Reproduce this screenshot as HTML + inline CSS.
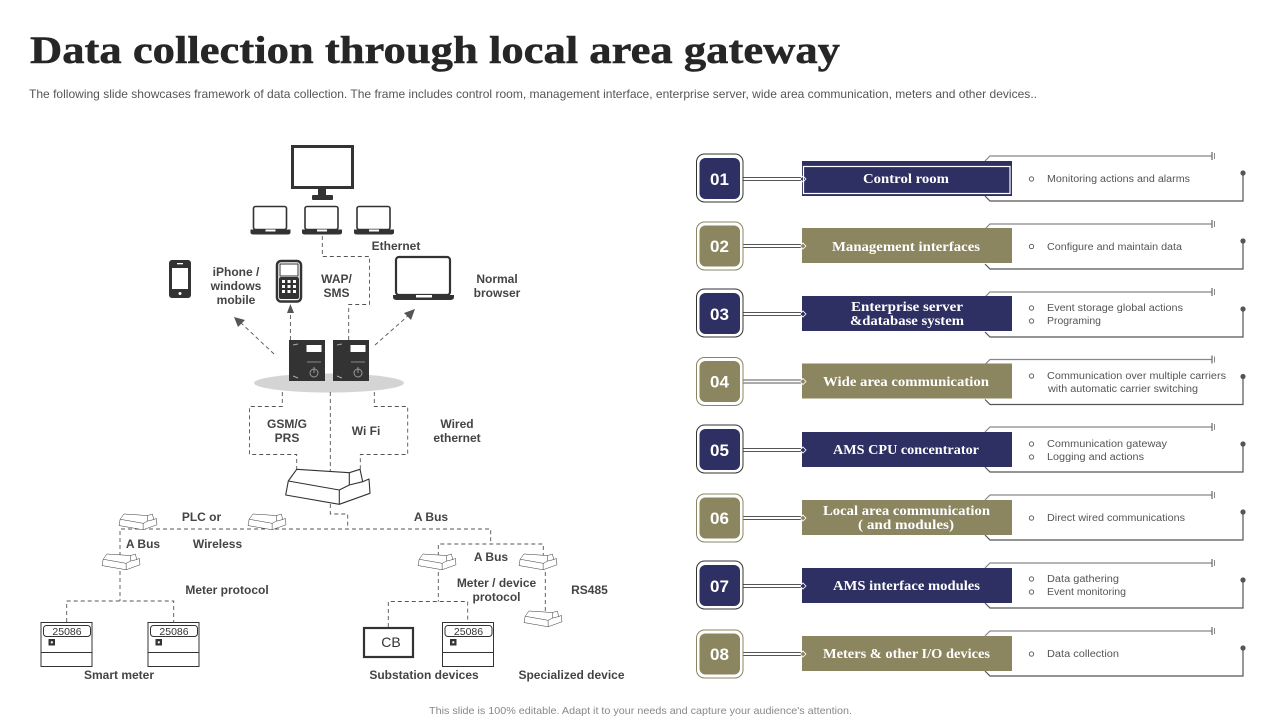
<!DOCTYPE html>
<html><head><meta charset="utf-8"><style>
html,body{margin:0;padding:0;background:#fff;width:1280px;height:720px;overflow:hidden}
svg{display:block}
.l{font:bold 12px "Liberation Sans",sans-serif;fill:#444;text-anchor:middle}
.r{font:10px "Liberation Sans",sans-serif;fill:#555}
.b{font:bold 14px "Liberation Serif",serif;fill:#fff;text-anchor:middle}
.n{font:bold 17px "Liberation Sans",sans-serif;fill:#fff;text-anchor:middle}
.d{fill:none;stroke:#555;stroke-width:.9;stroke-dasharray:4 3}
</style></head><body>
<svg width="1280" height="720" viewBox="0 0 1280 720" xmlns="http://www.w3.org/2000/svg">
<defs>
<g id="rt" fill="#fff" stroke="#333" stroke-width="1.1" stroke-linejoin="round">
<path d="M11 0L63.6 3.4L74.3 0L77 12.4L83.3 9.7L84.3 24L53.6 35L0 25.7L2.6 11.7Z"/>
<path d="M2.6 11.7L53.6 20.7L63.6 15.7L63.6 3.4M53.6 20.7V35M63.6 15.7L77 12.4" fill="none"/>
</g>
<g id="rs"><use href="#rt" transform="scale(.45)"/></g>
<g id="lap">
<rect x="2" y="1" width="33" height="23" rx="2" fill="#fff" stroke="#333" stroke-width="1.6"/>
<path d="M-1 24H39V27Q39 29 36 29H2Q-1 29 -1 27Z" fill="#333"/>
<rect x="14" y="24" width="10" height="2" fill="#fff"/>
</g>
<g id="mtr">
<rect x=".5" y=".5" width="51" height="44" fill="#fff" stroke="#333"/>
<path d="M0 30.5H52" stroke="#333"/>
<rect x="3" y="3.5" width="47" height="11" rx="3" fill="#fff" stroke="#333"/>
<rect x="8" y="17" width="6.5" height="6.5" fill="#333"/>
<rect x="10.3" y="19.3" width="2" height="2" fill="#fff"/>
<text x="26.5" y="13" text-anchor="middle" font-family="Liberation Sans,sans-serif" font-size="10.5" fill="#333">25086</text>
</g>
<g id="srv">
<rect width="36" height="41" fill="#333"/>
<rect x="17.500" y="5" width="15" height="7" fill="#fff"/>
<path d="M18 22H32" stroke="#888"/>
<circle cx="25" cy="33" r="4" fill="none" stroke="#999"/>
<path d="M25 27V33" stroke="#999"/>
<path d="M4 5L9 4M4 36L9 38" stroke="#aaa"/>
</g>
<g id="fr" fill="none">
<path d="M985 -18L990 -23H1212" stroke="#888" stroke-width="1.2"/>
<path d="M1212 -27V-19" stroke="#666" stroke-width="1.2"/><path d="M1214.500 -26V-20" stroke="#888"/>
<path d="M985 17L990 22H1243V-6" stroke="#555" stroke-width="1.2"/>
<circle cx="1243" cy="-6" r="2.600" fill="#555"/>
</g>
<g id="navy">
<path d="M743 -1.500H802M743 1.500H802" stroke="#555" fill="none"/>
<rect x="696.500" y="-25" width="46.500" height="48" rx="8" fill="#fff" stroke="#333"/>
<rect x="699.500" y="-21" width="40.500" height="41" rx="6" fill="#2e2f62"/>
<rect x="802" y="-18" width="210" height="35" fill="#2e2f62"/>
<path d="M800 0L803 -3L806 0L803 3Z" fill="#2e2f62" stroke="#fff" stroke-width=".8"/>
</g>
<g id="olive">
<path d="M743 -1.500H802M743 1.500H802" stroke="#555" fill="none"/>
<rect x="696.500" y="-24" width="46.500" height="48" rx="8" fill="#fff" stroke="#8b8560"/>
<rect x="699.500" y="-20.500" width="40.500" height="41" rx="6" fill="#8b8560"/>
<rect x="802" y="-18" width="210" height="35" fill="#8b8560"/>
<path d="M800 0L803 -3L806 0L803 3Z" fill="#8b8560" stroke="#fff" stroke-width=".8"/>
</g>
</defs>

<text x="30" y="63" font-family="Liberation Serif,serif" font-weight="bold" font-size="39" fill="#262626" stroke="#262626" stroke-width=".5" textLength="810" lengthAdjust="spacingAndGlyphs">Data collection through local area gateway</text>
<text x="29" y="98" font-family="Liberation Sans,sans-serif" font-size="12" fill="#555" textLength="1008" lengthAdjust="spacingAndGlyphs">The following slide showcases framework of data collection. The frame includes control room, management interface, enterprise server, wide area communication, meters and other devices..</text>
<text x="640.500" y="714" text-anchor="middle" font-family="Liberation Sans,sans-serif" font-size="10.500" fill="#888" textLength="423" lengthAdjust="spacingAndGlyphs">This slide is 100% editable. Adapt it to your needs and capture your audience's attention.</text>

<!-- left diagram -->
<rect x="292.500" y="146.500" width="60" height="41" fill="#fff" stroke="#333" stroke-width="3"/>
<rect x="318" y="189" width="8" height="7" fill="#333"/>
<rect x="312" y="195" width="21" height="5" rx="1" fill="#333"/>
<use href="#lap" x="251.500" y="205.500"/>
<use href="#lap" x="303" y="205.500"/>
<use href="#lap" x="355" y="205.500"/>
<path class="d" d="M322.300 236V256.500H369.500V304.500H348.700V340"/>

<rect x="169" y="260" width="22" height="38" rx="3" fill="#333"/>
<rect x="172" y="268" width="16" height="21" fill="#fff"/>
<circle cx="180" cy="293.500" r="1.500" fill="#fff"/>
<rect x="177" y="263" width="6" height="1.300" fill="#fff"/>

<rect x="277" y="261" width="24" height="40.500" rx="4" fill="#fff" stroke="#333" stroke-width="2.500"/>
<rect x="280" y="264" width="18" height="12" fill="#fff" stroke="#333"/>
<rect x="279" y="277" width="20" height="22" rx="2" fill="#333"/>
<g fill="#fff"><rect x="282" y="280" width="3" height="3"/><rect x="287.500" y="280" width="3" height="3"/><rect x="293" y="280" width="3" height="3"/><rect x="282" y="285" width="3" height="3"/><rect x="287.500" y="285" width="3" height="3"/><rect x="293" y="285" width="3" height="3"/><rect x="282" y="290" width="3" height="3"/><rect x="287.500" y="290" width="3" height="3"/><rect x="293" y="290" width="3" height="3"/></g>

<rect x="396" y="257" width="54" height="38" rx="3" fill="#fff" stroke="#333" stroke-width="2.200"/>
<path d="M393 295H454V297Q454 300 450 300H397Q393 300 393 297Z" fill="#333"/>
<rect x="416" y="295" width="16" height="2.500" fill="#fff"/>

<ellipse cx="329" cy="383" rx="75" ry="9.500" fill="#d4d4d4"/>
<use href="#srv" x="289" y="340"/>
<use href="#srv" x="333" y="340"/>

<path class="d" d="M274 354L240 322M290.400 340V312M375 345L409 315"/>
<path d="M234 317L245 320L238 327Z" fill="#555"/>
<path d="M290.400 304L294 313H287Z" fill="#555"/>
<path d="M415 309L411 320L404 313Z" fill="#555"/>

<path class="d" d="M282.300 392V406.500H249.500V454.500H296.700V469"/>
<path class="d" d="M330.300 392V471"/>
<path class="d" d="M374.300 392V406.500H407.700V454.500H360.300V470"/>
<use href="#rt" x="285.700" y="469.300"/>
<path class="d" d="M330.300 504V514H347.700V529"/>
<path class="d" d="M120 556V529H490.700V544M438.300 556V544H543.300V556"/>
<path class="d" d="M120 571V601M66.700 622V601H173.700V622"/>
<path class="d" d="M438.300 572V601.500M388.300 627V601.500H467.700V622"/>
<path class="d" d="M545.300 572V612"/>

<use href="#rs" x="119" y="514"/>
<use href="#rs" x="248" y="514"/>
<use href="#rs" x="102" y="554"/>
<use href="#rs" x="418" y="554"/>
<use href="#rs" x="519" y="554"/>
<use href="#rs" x="524" y="611"/>

<use href="#mtr" x="40.500" y="622"/>
<use href="#mtr" x="147.500" y="622"/>
<use href="#mtr" x="442" y="622"/>
<rect x="364" y="628" width="49" height="29" fill="#fff" stroke="#333" stroke-width="2.200"/>
<text x="391" y="647" text-anchor="middle" font-family="Liberation Sans,sans-serif" font-size="14" fill="#333">CB</text>

<g class="lbl">
<text class="l" x="396" y="250">Ethernet</text>
<text class="l" x="236" y="276">iPhone /</text><text class="l" x="236" y="290">windows</text><text class="l" x="236" y="304">mobile</text>
<text class="l" x="336.500" y="283">WAP/</text><text class="l" x="336.500" y="297">SMS</text>
<text class="l" x="497" y="283">Normal</text><text class="l" x="497" y="297">browser</text>
<text class="l" x="287" y="428">GSM/G</text><text class="l" x="287" y="442">PRS</text>
<text class="l" x="366" y="435">Wi Fi</text>
<text class="l" x="457" y="428">Wired</text><text class="l" x="457" y="442">ethernet</text>
<text class="l" x="201.500" y="521">PLC or</text>
<text class="l" x="431" y="521">A Bus</text>
<text class="l" x="143" y="548">A Bus</text>
<text class="l" x="217.500" y="548">Wireless</text>
<text class="l" x="491" y="561">A Bus</text>
<text class="l" x="227" y="594">Meter protocol</text>
<text class="l" x="496.500" y="587">Meter / device</text><text class="l" x="496.500" y="601">protocol</text>
<text class="l" x="589.500" y="594">RS485</text>
<text class="l" x="119" y="679">Smart meter</text>
<text class="l" x="424" y="679">Substation devices</text>
<text class="l" x="571.500" y="679">Specialized device</text>
</g>

<!-- right rows -->
<use href="#fr" y="179"/>
<use href="#fr" y="247"/>
<use href="#fr" y="315"/>
<use href="#fr" y="382.500"/>
<use href="#fr" y="450"/>
<use href="#fr" y="518"/>
<use href="#fr" y="586"/>
<use href="#fr" y="654"/>

<use href="#navy" y="179"/>
<rect x="803.500" y="166.500" width="206.500" height="27" fill="none" stroke="#fff" stroke-width="1.200"/>
<use href="#olive" y="246"/>
<use href="#navy" y="314"/>
<use href="#olive" y="381.500"/>
<use href="#navy" y="450"/>
<use href="#olive" y="518"/>
<use href="#navy" y="586"/>
<use href="#olive" y="654"/>

<text class="n" x="719.500" y="185">01</text>
<text class="n" x="719.500" y="252">02</text>
<text class="n" x="719.500" y="320">03</text>
<text class="n" x="719.500" y="387.500">04</text>
<text class="n" x="719.500" y="456">05</text>
<text class="n" x="719.500" y="524">06</text>
<text class="n" x="719.500" y="592">07</text>
<text class="n" x="719.500" y="660">08</text>

<text class="b" x="906" y="183" textLength="86" lengthAdjust="spacingAndGlyphs">Control room</text>
<text class="b" x="906" y="251" textLength="148" lengthAdjust="spacingAndGlyphs">Management interfaces</text>
<text class="b" x="907" y="311" textLength="112" lengthAdjust="spacingAndGlyphs">Enterprise server</text>
<text class="b" x="907" y="325" textLength="114" lengthAdjust="spacingAndGlyphs">&amp;database system</text>
<text class="b" x="906" y="386" textLength="166" lengthAdjust="spacingAndGlyphs">Wide area communication</text>
<text class="b" x="906" y="454" textLength="146" lengthAdjust="spacingAndGlyphs">AMS CPU concentrator</text>
<text class="b" x="906.500" y="515" textLength="167" lengthAdjust="spacingAndGlyphs">Local area communication</text>
<text class="b" x="906" y="529" textLength="96" lengthAdjust="spacingAndGlyphs">( and modules)</text>
<text class="b" x="906.500" y="590" textLength="147" lengthAdjust="spacingAndGlyphs">AMS interface modules</text>
<text class="b" x="906.500" y="658" textLength="167" lengthAdjust="spacingAndGlyphs">Meters &amp; other I/O devices</text>

<g fill="#fff" stroke="#555" stroke-width=".9">
<circle cx="1031.500" cy="179" r="2.200"/><circle cx="1031.500" cy="246.500" r="2.200"/>
<circle cx="1031.500" cy="308" r="2.200"/><circle cx="1031.500" cy="321" r="2.200"/>
<circle cx="1031.500" cy="376" r="2.200"/>
<circle cx="1031.500" cy="444" r="2.200"/><circle cx="1031.500" cy="457" r="2.200"/>
<circle cx="1031.500" cy="518" r="2.200"/>
<circle cx="1031.500" cy="579" r="2.200"/><circle cx="1031.500" cy="592" r="2.200"/>
<circle cx="1031.500" cy="654" r="2.200"/>
</g>

<text class="r" x="1047" y="182" textLength="143" lengthAdjust="spacingAndGlyphs">Monitoring actions and alarms</text>
<text class="r" x="1047" y="250" textLength="135" lengthAdjust="spacingAndGlyphs">Configure and maintain  data</text>
<text class="r" x="1047" y="311" textLength="136" lengthAdjust="spacingAndGlyphs">Event storage global actions</text>
<text class="r" x="1047" y="324" textLength="54" lengthAdjust="spacingAndGlyphs">Programing</text>
<text class="r" x="1047" y="379" textLength="179" lengthAdjust="spacingAndGlyphs">Communication over multiple carriers</text>
<text class="r" x="1048" y="392" textLength="150" lengthAdjust="spacingAndGlyphs">with automatic carrier switching</text>
<text class="r" x="1047" y="447" textLength="120" lengthAdjust="spacingAndGlyphs">Communication gateway</text>
<text class="r" x="1047" y="460" textLength="97" lengthAdjust="spacingAndGlyphs">Logging and actions</text>
<text class="r" x="1047" y="521" textLength="138" lengthAdjust="spacingAndGlyphs">Direct wired communications</text>
<text class="r" x="1047" y="582" textLength="72" lengthAdjust="spacingAndGlyphs">Data gathering</text>
<text class="r" x="1047" y="595" textLength="79" lengthAdjust="spacingAndGlyphs">Event monitoring</text>
<text class="r" x="1047" y="657" textLength="72" lengthAdjust="spacingAndGlyphs">Data collection</text>
</svg>
</body></html>
